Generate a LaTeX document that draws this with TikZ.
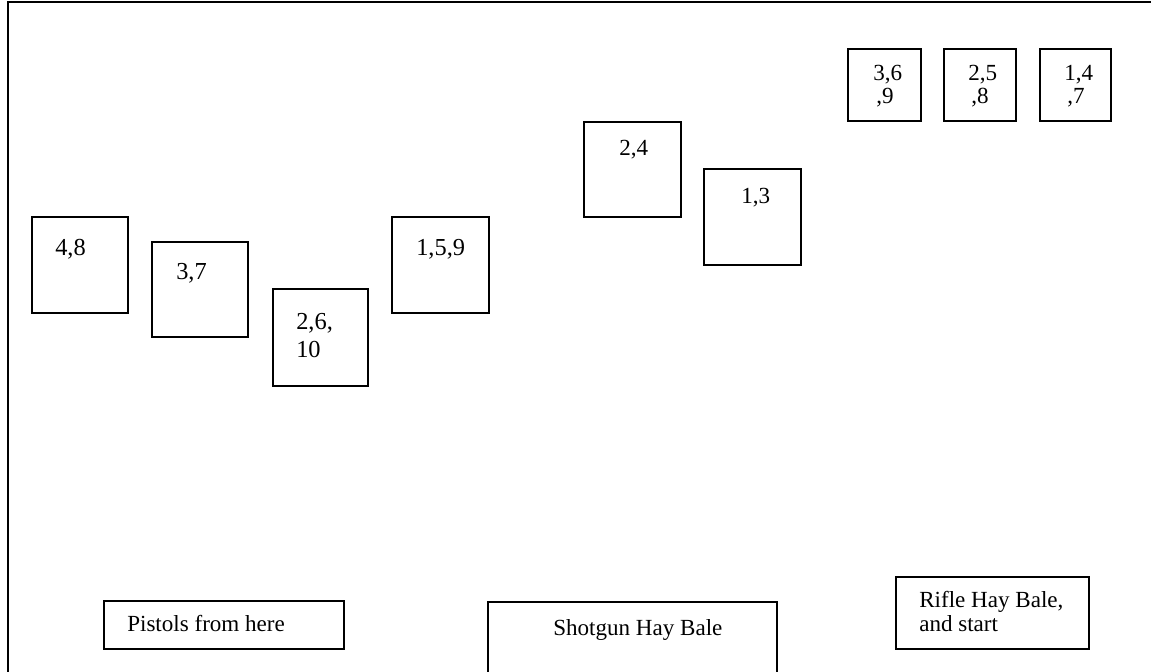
\documentclass[tikz,border=0pt]{standalone}
\usepackage{fontspec}
\setmainfont{Liberation Serif}
\usetikzlibrary{fit}
\begin{document}
\begin{tikzpicture}[x=0.75pt,y=-0.75pt,
  boxst/.style={draw=black,line width=1.6pt,inner sep=0pt,fill=none},
  big/.style={inner sep=0pt,anchor=base west,font=\fontsize{18.3}{21}\selectfont},
  small/.style={inner sep=0pt,anchor=base west,font=\fontsize{17.3}{20}\selectfont},
  framest/.style={draw=black,line width=1.7pt}]
\useasboundingbox (0,0) rectangle (1151,671);
% outer frame (only left and top edges visible)
\coordinate (fbl) at (8,690);
\coordinate (ftl) at (8,2);
\coordinate (ftr) at (1170,2);
\draw[framest] (fbl) -- (ftl) -- (ftr);
% pistol targets
\node[boxst,fit={(32,217) (128,313)}] (b48) {};
\node[big] (t48) at (55,255) {4,8};
\node[boxst,fit={(152,242) (248,337)}] (b37) {};
\node[big] (t37) at (176,279) {3,7};
\node[boxst,fit={(273,289) (368,386)}] (b2610) {};
\node[big] (t2610a) at (296,329) {2,6,};
\node[big] (t2610b) at (296,357) {10};
\node[boxst,fit={(392,217) (489,313)}] (b159) {};
\node[big] (t159) at (416,255) {1,5,9};
% shotgun targets
\node[boxst,fit={(584,122) (681,217)}] (b24) {};
\node[small] (t24) at (619,155) {2,4};
\node[boxst,fit={(704,169) (801,265)}] (b13) {};
\node[small] (t13) at (741,203) {1,3};
% rifle targets
\node[boxst,fit={(848,49) (921,121)}] (b369) {};
\node[small] (t369a) at (873,80) {3,6};
\node[small] (t369b) at (876,103) {,9};
\node[boxst,fit={(944,49) (1016,121)}] (b258) {};
\node[small] (t258a) at (968,80) {2,5};
\node[small] (t258b) at (971,103) {,8};
\node[boxst,fit={(1040,49) (1111,121)}] (b147) {};
\node[small] (t147a) at (1064,80) {1,4};
\node[small] (t147b) at (1067,103) {,7};
% bottom stations
\node[boxst,fit={(104,601) (344,649)}] (pist) {};
\node[small] (tpist) at (127,631) {Pistols from here};
\node[boxst,fit={(488,602) (777,690)}] (shot) {};
\node[small] (tshot) at (553,635) {Shotgun Hay Bale};
\node[boxst,fit={(896,577) (1089,649)}] (rifle) {};
\node[small] (trifa) at (919,607) {Rifle Hay Bale,};
\node[small] (trifb) at (919,631) {and start};
\end{tikzpicture}
\end{document}
